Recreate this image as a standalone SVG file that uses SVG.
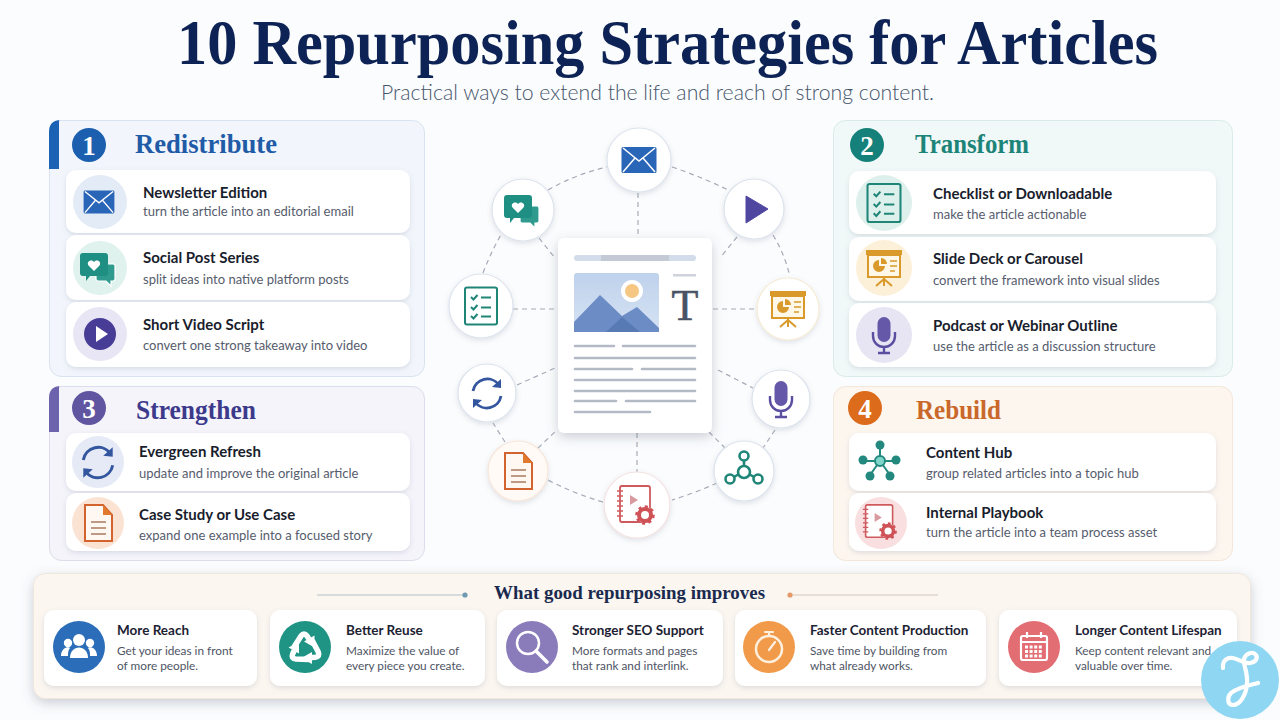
<svg xmlns="http://www.w3.org/2000/svg" width="1280" height="720" viewBox="0 0 1280 720">
<style>
.sans{font-family:Lato,"Noto Sans",sans-serif}
.serif{font-family:"Liberation Serif",serif;font-weight:700}
.ct{font-family:Lato,"Noto Sans",sans-serif;font-weight:700;font-size:15px;fill:#191d2c}
.cs{font-family:Lato,"Noto Sans",sans-serif;font-size:13px;fill:#565c6d}
.bt{font-family:Lato,"Noto Sans",sans-serif;font-weight:700;font-size:13.500px;fill:#1d2233}
.bs{font-family:Lato,"Noto Sans",sans-serif;font-size:11.800px;fill:#4e5464}
.h{font-family:"Liberation Serif",serif;font-weight:700;font-size:28px}
.num{font-family:"Liberation Serif",serif;font-weight:700;font-size:27px;fill:#fff;text-anchor:middle}
.card{fill:#fff;filter:url(#sh)}
.node{fill:#fff;stroke:#dde4ee;stroke-width:1.2;filter:url(#sh)}
.dash{fill:none;stroke:#a5acb8;stroke-width:1.2;stroke-dasharray:5 4}
.ln{stroke:#b4bac5;stroke-width:2.6;stroke-linecap:round}
</style>
<defs>
<filter id="sh" x="-15%" y="-20%" width="130%" height="145%"><feDropShadow dx="0" dy="2" stdDeviation="2.5" flood-color="#6a7690" flood-opacity=".2"/></filter>
<filter id="sh2" x="-20%" y="-20%" width="140%" height="140%"><feDropShadow dx="0" dy="4" stdDeviation="6" flood-color="#59647c" flood-opacity=".3"/></filter>
<linearGradient id="imgbg" x1="0" y1="0" x2="0" y2="1"><stop offset="0" stop-color="#bfd2ec"/><stop offset="1" stop-color="#d5e2f3"/></linearGradient>
<g id="i-mail"><rect x="-17.5" y="-13" width="35" height="26" rx="1.5" fill="#2a66b8"/><path d="M-16-12 0 1 16-12M-16 12-4-2M16 12 4-2" fill="none" stroke="#fff" stroke-width="1.5"/></g>
<g id="i-chat"><path d="M-2-4H15a2 2 0 0 1 2 2V11a2 2 0 0 1-2 2H13V18L8 13H0a2 2 0 0 1-2-2Z" fill="#2f9a8e" stroke="#fff" stroke-width="1.2"/><path d="M-15-15H7a3 3 0 0 1 3 3V5a3 3 0 0 1-3 3H-8L-12 13V8H-15a3 3 0 0 1-3-3V-12a3 3 0 0 1 3-3Z" fill="#1f8f83"/><path d="M-4 3-9.500-2.500C-12-6-7-9.500-4-6-1-9.500 4-6 1.500-2.500Z" fill="#fff"/></g>
<g id="i-check" fill="none" stroke="#1f8577" stroke-width="2"><rect x="-16" y="-18.500" width="32" height="37" rx="2"/><path d="M-10-9-7.500-6.500-3.500-11M-10 1-7.500 3.500-3.500-1M-10 10-7.500 12.500-3.500 8M0-8.500H10M0 1.500H10M0 10.500H10"/></g>
<g id="i-slide"><rect x="-18" y="-18" width="36" height="5" fill="#d99a2b"/><rect x="-16" y="-13" width="32" height="22" fill="#fff8e9" stroke="#d99a2b" stroke-width="2"/><path d="M-5-8a6 6 0 1 0 6 6H-5Z" fill="#d99a2b"/><path d="M-3-10a6 6 0 0 1 6 6H-3Z" fill="#d99a2b"/><path d="M6-7H13M6-2H13M6 3H11" stroke="#d99a2b" stroke-width="1.600"/><path d="M0 9V18M0 11-8 18M0 11 8 18" stroke="#d99a2b" stroke-width="2" fill="none"/></g>
<g id="i-mic"><rect x="-6.500" y="-18" width="13" height="25" rx="6.500" fill="#6558a8"/><path d="M-11-3V1A11 11 0 0 0 11 1V-3M0 12V18M-6 18H6" fill="none" stroke="#5a4ea0" stroke-width="2.400"/></g>
<g id="i-sync" fill="none" stroke="#33569f" stroke-width="2.800"><path d="M-14-2A14.500 14.500 0 0 1 12-8"/><path d="M14 3A14.500 14.500 0 0 1-12 9"/><path d="M14-14 14-5 5-6ZM-14 15-14 6-5 7Z" fill="#33569f" stroke="none"/></g>
<g id="i-doc"><path d="M-13-18H5L14-8V18H-13Z" fill="#fff8f2" stroke="#d2622e" stroke-width="2"/><path d="M5-18 14-8H5Z" fill="#e27a2d"/><path d="M-7-1H8M-7 5H8M-7 11H8" stroke="#a97b62" stroke-width="1.600"/></g>
<g id="i-book"><rect x="-16" y="-19" width="30" height="36" rx="2" fill="#fff" stroke="#cf5a5e" stroke-width="1.800"/><path d="M-19-14H-13M-19-9H-13M-19-4H-13M-19 1H-13M-19 6H-13M-19 11H-13" stroke="#cf5a5e" stroke-width="1.500"/><path d="M-6-10 2-5-6 0Z" fill="#d79b9f"/><circle cx="9" cy="10" r="8" fill="#fff"/><circle cx="9" cy="10" r="6" fill="none" stroke="#cf5257" stroke-width="4"/><circle cx="9" cy="10" r="8.500" fill="none" stroke="#cf5257" stroke-width="2.500" stroke-dasharray="3 3.600"/></g>
<g id="i-tri" fill="none" stroke="#1f8577" stroke-width="2.600"><path d="M0-4V-10M-5 3-10 6M5 3 10 6"/><circle cx="0" cy="1" r="6"/><circle cx="0" cy="-15" r="4.500"/><circle cx="-14" cy="8" r="4.500"/><circle cx="14" cy="8" r="4.500"/></g>
<g id="i-hub"><path d="M0-14V0M-15 0H15M0 0-10 14M0 0 10 14" stroke="#23897f" stroke-width="2"/><circle cy="-16" r="4.500" fill="#23897f"/><circle cx="-17" cy="-1" r="4.500" fill="#23897f"/><circle cx="16" cy="-1" r="4.500" fill="#23897f"/><circle cx="-10" cy="15" r="4.500" fill="#23897f"/><circle cx="10" cy="15" r="4.500" fill="#23897f"/><circle r="5" fill="#7fd5ca" stroke="#23897f" stroke-width="2"/></g>
<g id="i-people" fill="#fff"><circle cy="-8" r="6"/><circle cx="-11" cy="-5" r="4.200"/><circle cx="11" cy="-5" r="4.200"/><path d="M-9 10C-9-4 9-4 9 10Z"/><path d="M-18 8C-18-1-10-2-9 0-11 2-11 5-11 8ZM18 8C18-1 10-2 9 0 11 2 11 5 11 8Z"/></g>
<g id="i-arr"><path d="M-11-2-4-13Q-1-17 2-13L4-10" fill="none" stroke="#fff" stroke-width="5.500"/><path d="M-1-7.500 9.500-13.500 9.500-1.500Z" fill="#fff"/></g>
</defs>
<rect width="1280" height="720" fill="#fbfcfd"/>

<g id="title">
<text class="serif" x="177" y="64" font-size="63" fill="#0e2355" textLength="981" lengthAdjust="spacingAndGlyphs">10 Repurposing Strategies for Articles</text>
<text class="sans" x="381" y="100" font-size="22" font-weight="300" fill="#46566c" textLength="553" lengthAdjust="spacingAndGlyphs">Practical ways to extend the life and reach of strong content.</text>
</g>

<g id="connectors">
<path class="dash" d="M672 167Q702 177 728 190M773 235Q784 253 789 273M775 430 763 448M717 483Q695 493 672 500M603 502Q575 494 548 480M505 442 493 423M483 273Q491 252 502 233M548 190Q576 174 607 167"/>
<path class="dash" d="M638 193V235M737 237 720 258M713 309H758M718 370 753 388M709 432 725 448M637 433V472M538 448 557 430M517 385 555 368M513 309H557M539 238 555 258"/>
</g>

<g id="panel-redistribute">
<rect x="49.500" y="120.500" width="375" height="256" rx="12" fill="#f2f6fc" stroke="#d9e3f0"/>
<path d="M59 120H61Q49 120 49 132V169H59Z" fill="#1b62b4"/>
<circle cx="89" cy="145" r="17" fill="#1b5fae"/><text class="num" x="89" y="155">1</text>
<text class="h" x="135" y="153" fill="#1f5ba6" textLength="142" lengthAdjust="spacingAndGlyphs">Redistribute</text>
<rect class="card" x="66" y="170" width="344" height="63" rx="10"/>
<rect class="card" x="66" y="235" width="344" height="65" rx="10"/>
<rect class="card" x="66" y="302" width="344" height="65" rx="10"/>
<circle cx="100" cy="202" r="27" fill="#e3ebf6"/><use href="#i-mail" transform="translate(99 202) scale(.88)"/>
<circle cx="100" cy="268" r="27" fill="#e0f2ee"/><use href="#i-chat" transform="translate(98 268)"/>
<circle cx="100" cy="334" r="27" fill="#e8e5f4"/><circle cx="100" cy="334" r="16" fill="#483d96"/><path d="M96 326 108 334 96 342Z" fill="#fff"/>
<text class="ct" x="143" y="198">Newsletter Edition</text><text class="cs" x="143" y="216">turn the article into an editorial email</text>
<text class="ct" x="143" y="263">Social Post Series</text><text class="cs" x="143" y="284">split ideas into native platform posts</text>
<text class="ct" x="143" y="330">Short Video Script</text><text class="cs" x="143" y="350">convert one strong takeaway into video</text>
</g>

<g id="panel-transform">
<rect x="833.500" y="120.500" width="399" height="256" rx="12" fill="#f1f9f8" stroke="#d8ebe8"/>
<circle cx="867" cy="145" r="17" fill="#16807a"/><text class="num" x="867" y="155">2</text>
<text class="h" x="915" y="153" fill="#1c8478" textLength="114" lengthAdjust="spacingAndGlyphs">Transform</text>
<rect class="card" x="849" y="171" width="367" height="63" rx="10"/>
<rect class="card" x="849" y="237" width="367" height="64" rx="10"/>
<rect class="card" x="849" y="303" width="367" height="64" rx="10"/>
<circle cx="884" cy="203" r="28" fill="#def0ec"/><use href="#i-check" transform="translate(884 203) scale(1.030)"/>
<circle cx="884" cy="268" r="28" fill="#fcf0d9"/><use href="#i-slide" transform="translate(884 268)"/>
<circle cx="884" cy="335" r="28" fill="#e7e5f3"/><use href="#i-mic" transform="translate(884 335)"/>
<text class="ct" x="933" y="199">Checklist or Downloadable</text><text class="cs" x="933" y="219">make the article actionable</text>
<text class="ct" x="933" y="264">Slide Deck or Carousel</text><text class="cs" x="933" y="285">convert the framework into visual slides</text>
<text class="ct" x="933" y="331">Podcast or Webinar Outline</text><text class="cs" x="933" y="351">use the article as a discussion structure</text>
</g>

<g id="panel-strengthen">
<rect x="49.500" y="386.500" width="375" height="174" rx="12" fill="#f5f4fb" stroke="#dcdcec"/>
<path d="M59 386H61Q49 386 49 398V432H59Z" fill="#6d63ad"/>
<circle cx="89" cy="408" r="17" fill="#5f55a0"/><text class="num" x="89" y="418">3</text>
<text class="h" x="136" y="419" fill="#3d3a8c" textLength="120" lengthAdjust="spacingAndGlyphs">Strengthen</text>
<rect class="card" x="66" y="433" width="344" height="58" rx="10"/>
<rect class="card" x="66" y="493" width="344" height="58" rx="10"/>
<circle cx="98" cy="462" r="26" fill="#e5eaf6"/><use href="#i-sync" transform="translate(98 462) scale(1.050)"/>
<circle cx="98" cy="523" r="26" fill="#fbe3d3"/><use href="#i-doc" transform="translate(98 523)"/>
<text class="ct" x="139" y="457">Evergreen Refresh</text><text class="cs" x="139" y="478">update and improve the original article</text>
<text class="ct" x="139" y="520">Case Study or Use Case</text><text class="cs" x="139" y="540">expand one example into a focused story</text>
</g>

<g id="panel-rebuild">
<rect x="833.500" y="386.500" width="399" height="174" rx="12" fill="#fdf6ef" stroke="#f3e6da"/>
<circle cx="865" cy="408" r="17" fill="#dc6b1c"/><text class="num" x="865" y="418">4</text>
<text class="h" x="916" y="419" fill="#c9682a" textLength="85" lengthAdjust="spacingAndGlyphs">Rebuild</text>
<rect class="card" x="849" y="433" width="367" height="58" rx="10"/>
<rect class="card" x="849" y="493" width="367" height="58" rx="10"/>
<use href="#i-hub" transform="translate(880 461)"/>
<circle cx="881" cy="523" r="26" fill="#f9dfe0"/><use href="#i-book" transform="translate(880 522) scale(.9)"/>
<text class="ct" x="926" y="458">Content Hub</text><text class="cs" x="926" y="478">group related articles into a topic hub</text>
<text class="ct" x="926" y="518">Internal Playbook</text><text class="cs" x="926" y="537">turn the article into a team process asset</text>
</g>

<g id="center-article">
<rect x="558" y="238" width="154" height="195" rx="6" fill="#fff" filter="url(#sh2)"/>
<rect x="574" y="255" width="122" height="6" rx="3" fill="#d3dcea"/><rect x="601" y="255" width="68" height="6" fill="#c3cad6"/>
<rect x="574" y="273" width="85" height="59" rx="3" fill="url(#imgbg)"/>
<circle cx="632" cy="291" r="11" fill="#fff"/><circle cx="632" cy="291" r="7" fill="#f5c783"/>
<path d="M574 332V322L600 295 622 316 637 307 659 328V332Z" fill="#6b8cc4"/>
<path d="M606 332 622 317 640 332Z" fill="#5779b4"/>
<rect x="673" y="274" width="23" height="2.500" fill="#ced3dc"/>
<text x="685" y="320" font-family="Liberation Serif, serif" font-size="44" fill="#4a5366" stroke="#4a5366" stroke-width=".6" text-anchor="middle">T</text>
<path class="ln" d="M575 346H614M623 346H695M575 358H695M575 369H632M642 369H695M575 380H695M575 391H695M575 401H616M626 401H695M575 412H650"/>
</g>

<g id="hub-mail"><circle class="node" cx="639" cy="160" r="32"/><use href="#i-mail" transform="translate(639 160)"/></g>
<g id="hub-video"><circle class="node" cx="754" cy="209" r="30"/><path d="M746 196 768 209 746 223Z" fill="#4f46a0" stroke="#4f46a0" stroke-linejoin="round"/></g>
<g id="hub-slides"><circle class="node" cx="788" cy="309" r="31" style="fill:#fff;stroke:#f7ecd5"/><use href="#i-slide" transform="translate(788 309)"/></g>
<g id="hub-mic"><circle class="node" cx="781" cy="399" r="29"/><use href="#i-mic" transform="translate(781 399)"/></g>
<g id="hub-network"><circle class="node" cx="744" cy="471" r="30"/><use href="#i-tri" transform="translate(744 471)"/></g>
<g id="hub-playbook"><circle class="node" cx="637" cy="505" r="33" style="stroke:#f5e2e2"/><use href="#i-book" transform="translate(636 505)"/></g>
<g id="hub-doc"><circle class="node" cx="518" cy="471" r="30" style="fill:#fffaf6;stroke:#f7e6da"/><use href="#i-doc" transform="translate(518 471)"/></g>
<g id="hub-refresh"><circle class="node" cx="487" cy="393" r="29"/><use href="#i-sync" transform="translate(487 393)"/></g>
<g id="hub-checklist"><circle class="node" cx="481" cy="306" r="32"/><use href="#i-check" transform="translate(481 306)"/></g>
<g id="hub-social"><circle class="node" cx="523" cy="210" r="31"/><use href="#i-chat" transform="translate(522 210)"/></g>

<g id="benefits">
<rect x="33.500" y="573.500" width="1217" height="125" rx="12" fill="#fbf6f0" stroke="#f0e7dd" filter="url(#sh2)"/>
<text class="serif" x="494" y="599" font-size="19" fill="#1a2a4f" textLength="271" lengthAdjust="spacingAndGlyphs">What good repurposing improves</text>
<path d="M317 595H465" stroke="#b5bfc6" stroke-width="1.200"/><circle cx="465" cy="595" r="2.600" fill="#6f9ab0"/>
<path d="M788 595H938" stroke="#d3c5ba" stroke-width="1.200"/><circle cx="790" cy="595" r="2.600" fill="#e39a68"/>
<rect class="card" x="44" y="610" width="213" height="76" rx="10"/>
<rect class="card" x="270" y="610" width="215" height="76" rx="10"/>
<rect class="card" x="497" y="610" width="226" height="76" rx="10"/>
<rect class="card" x="735" y="610" width="251" height="76" rx="10"/>
<rect class="card" x="999" y="610" width="238" height="76" rx="10"/>
<circle cx="79" cy="647" r="26" fill="#2b6db8"/><use href="#i-people" transform="translate(79 648)"/>
<circle cx="305" cy="647" r="26" fill="#1f9485"/><g transform="translate(305 649)"><use href="#i-arr"/><use href="#i-arr" transform="rotate(120)"/><use href="#i-arr" transform="rotate(240)"/></g>
<circle cx="532" cy="647" r="26" fill="#8a7cbb"/><circle cx="528" cy="643" r="11" fill="none" stroke="#fff" stroke-width="2.500"/><path d="M536 651 547 662" stroke="#fff" stroke-width="3.500" stroke-linecap="round"/>
<circle cx="769" cy="647" r="26" fill="#f09a4a"/><circle cx="769" cy="649" r="13" fill="none" stroke="#fdf0df" stroke-width="2.500"/><path d="M765 632H773M769 632V636M769 650 775 642" stroke="#fdf0df" stroke-width="2.200" stroke-linecap="round"/>
<circle cx="1034" cy="647" r="26" fill="#e26d72"/><rect x="1021" y="636" width="26" height="24" rx="2" fill="none" stroke="#fff" stroke-width="2.200"/><path d="M1021 642H1047M1027 632V638M1041 632V638" stroke="#fff" stroke-width="2.200"/><path d="M1025 647H1043M1025 651.500H1043M1025 656H1043" stroke="#fff" stroke-width="3" stroke-dasharray="3 1.600"/>
<text class="bt" x="117" y="635">More Reach</text><text class="bs" x="117" y="655">Get your ideas in front</text><text class="bs" x="117" y="670">of more people.</text>
<text class="bt" x="346" y="635">Better Reuse</text><text class="bs" x="346" y="655">Maximize the value of</text><text class="bs" x="346" y="670">every piece you create.</text>
<text class="bt" x="572" y="635">Stronger SEO Support</text><text class="bs" x="572" y="655">More formats and pages</text><text class="bs" x="572" y="670">that rank and interlink.</text>
<text class="bt" x="810" y="635">Faster Content Production</text><text class="bs" x="810" y="655">Save time by building from</text><text class="bs" x="810" y="670">what already works.</text>
<text class="bt" x="1075" y="635">Longer Content Lifespan</text><text class="bs" x="1075" y="655">Keep content relevant and</text><text class="bs" x="1075" y="670">valuable over time.</text>
</g>

<g id="watermark">
<circle cx="1240" cy="680" r="39" fill="#8ed6f2"/>
<path d="M1223 668C1222 660 1228 657 1233 658 1239 659 1243 664 1250 663 1256 662 1258 658 1256 655 1253 651 1246 653 1244 659 1243 665 1248 672 1247 684 1246 695 1240 705 1233 705 1227 705 1227 697 1231 693 1238 687 1250 685 1258 683" fill="none" stroke="#fff" stroke-width="4.200" stroke-linecap="round" stroke-linejoin="round"/>
</g>
</svg>
